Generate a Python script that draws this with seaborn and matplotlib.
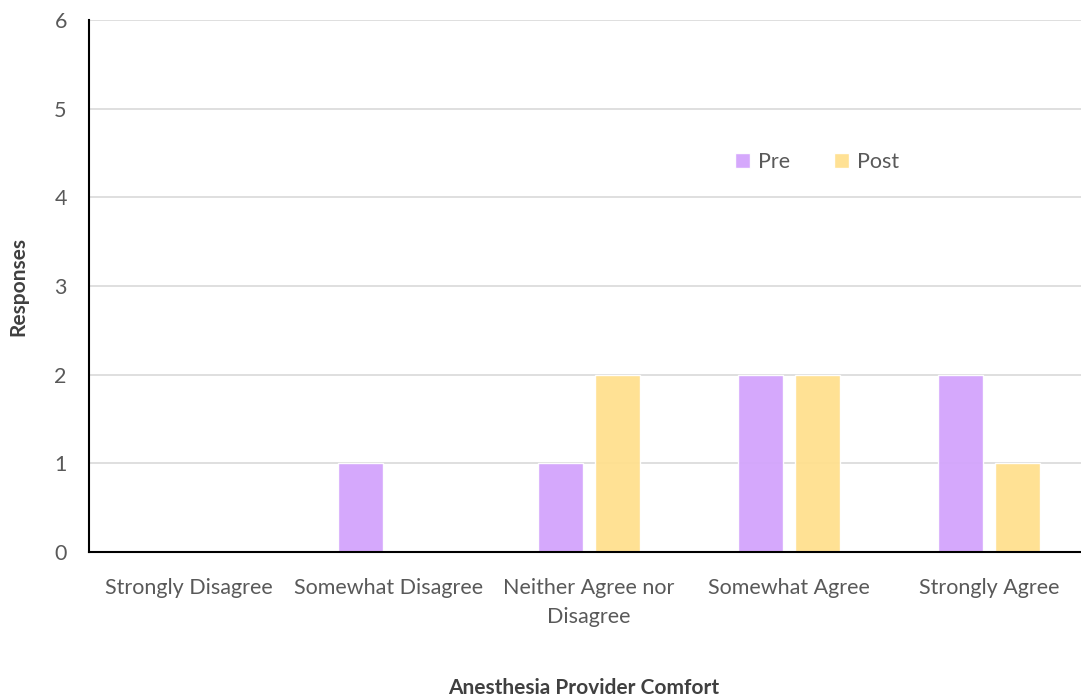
import matplotlib.pyplot as plt
import seaborn as sns
import pandas as pd

# Survey responses
categories = ['Strongly Disagree', 'Somewhat Disagree', 'Neither Agree nor\nDisagree',
              'Somewhat Agree', 'Strongly Agree']
pre = [0, 1, 1, 2, 2]
post = [0, 0, 2, 2, 1]

df = pd.DataFrame({
    'Category': categories * 2,
    'Responses': pre + post,
    'Period': ['Pre'] * len(categories) + ['Post'] * len(categories),
})

sns.set_theme(style='white')
plt.rcParams['font.family'] = ['Lato', 'DejaVu Sans']

fig = plt.figure(figsize=(10.81, 7), dpi=100)
ax = fig.add_axes([89 / 1081, 1 - 552 / 700, 1000 / 1081, (552 - 20) / 700])

sns.barplot(data=df, x='Category', y='Responses', hue='Period',
            palette={'Pre': '#D3A4FC', 'Post': '#FFE08E'}, saturation=1,
            width=0.57, gap=0.21, alpha=0.95, ax=ax, zorder=2)

ax.set_ylim(0, 6)
ax.set_xlim(-0.5, 4.5)
ax.set_yticks(range(7))
ax.yaxis.grid(True, color='#D9D9D9', linewidth=1.2, zorder=0)
ax.set_axisbelow(True)

for side in ['top', 'right']:
    ax.spines[side].set_visible(False)
ax.spines['left'].set_color('black')
ax.spines['bottom'].set_color('black')
ax.spines['left'].set_linewidth(1.5)
ax.spines['bottom'].set_linewidth(1.5)

ax.tick_params(axis='both', length=0, labelsize=15.5, labelcolor='#595959')
ax.tick_params(axis='x', pad=19)
ax.tick_params(axis='y', pad=16)
for lbl in ax.get_xticklabels():
    lbl.set_linespacing(1.55)

ax.set_xlabel('')
ax.set_ylabel('')
fig.text(584 / 1081, 1 - 688 / 700, 'Anesthesia Provider Comfort', fontsize=15,
         fontweight='bold', color='#404040', ha='center', va='center')
fig.text(18 / 1081, 1 - 286 / 700, 'Responses', fontsize=15, fontweight='bold',
         color='#404040', ha='center', va='center', rotation=90)

ax.legend(loc='center', bbox_to_anchor=(0.728, 0.733), ncol=2, frameon=False,
          fontsize=15.5, labelcolor='#595959', handlelength=0.7, handleheight=0.7,
          columnspacing=2.0, handletextpad=0.4)

plt.savefig('out.png')
